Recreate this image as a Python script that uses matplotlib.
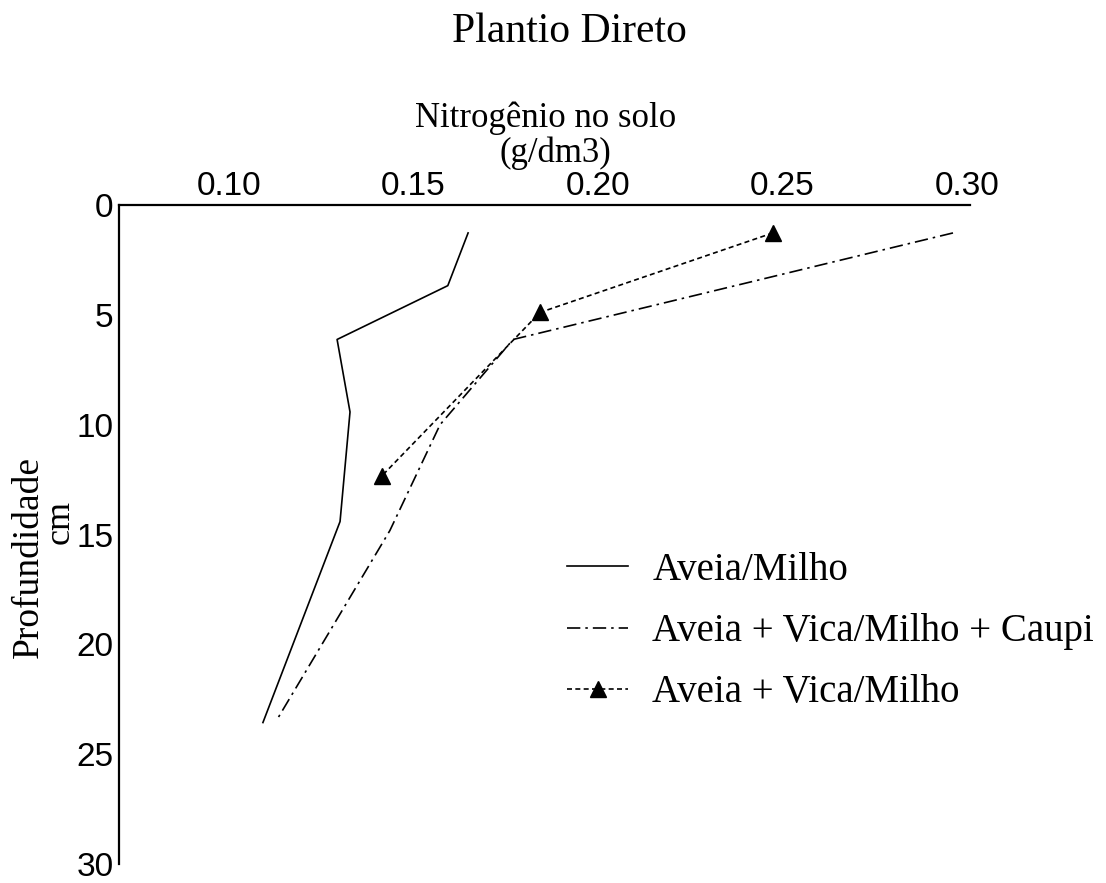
import matplotlib.pyplot as plt

# Nitrogênio no solo (g/dm3) por profundidade (cm) - plantio direto
prof_aveia_milho = [1.27, 3.67, 6.12, 9.42, 14.41, 23.56]
n_aveia_milho = [0.1648, 0.1593, 0.1293, 0.1328, 0.1301, 0.1092]

prof_caupi = [1.27, 6.12, 10.0, 14.82, 23.43]
n_caupi = [0.2962, 0.1770, 0.1572, 0.1436, 0.1130]

prof_vica = [1.27, 4.89, 12.32]
n_vica = [0.2474, 0.1843, 0.1415]

xticks = [0.10, 0.15, 0.20, 0.25, 0.30]
xtick_labels = ['0.10', '0.15', '0.20', '0.25', '0.30']
yticks = [0, 5, 10, 15, 20, 25, 30]

serif = 'Liberation Serif'
sans = 'Liberation Sans'

fig = plt.figure(figsize=(11.06, 8.83), dpi=100)
ax = fig.add_axes([0.1076, 0.0215, 0.7694, 0.7463])

ax.plot(n_aveia_milho, prof_aveia_milho, color='black', lw=1.2,
        linestyle='-', label='Aveia/Milho')
ax.plot(n_caupi, prof_caupi, color='black', lw=1.2,
        linestyle=(0, (8, 3, 1.5, 3)), label='Aveia + Vica/Milho + Caupi')
ax.plot(n_vica, prof_vica, color='black', lw=1.2, linestyle=(0, (3, 2)),
        marker='^', markersize=11, label='Aveia + Vica/Milho')

ax.set_xlim(0.0702, 0.3008)
ax.set_ylim(30, 0)

ax.xaxis.tick_top()
ax.set_xticks(xticks)
ax.set_xticklabels(xtick_labels, fontsize=24, family=sans)
ax.set_yticks(yticks)
ax.set_yticklabels([str(v) for v in yticks], fontsize=24, family=sans)
ax.tick_params(axis='x', length=0, pad=2)
ax.tick_params(axis='y', length=0, pad=4)

for side in ['right', 'bottom']:
    ax.spines[side].set_visible(False)
for side in ['top', 'left']:
    ax.spines[side].set_linewidth(1.6)

fig.text(569 / 1106, 1 - 42 / 883, 'Plantio Direto', ha='center',
         va='baseline', fontsize=30, family=serif)
fig.text(546 / 1106, 1 - 127 / 883, 'Nitrogênio no solo', ha='center',
         va='baseline', fontsize=25, family=serif)
fig.text(555 / 1106, 1 - 162 / 883, '(g/dm3)', ha='center',
         va='baseline', fontsize=25, family=serif)
fig.text(29 / 1106, 1 - 557 / 883, 'Profundidade', rotation=90,
         ha='center', va='center', fontsize=27, family=serif)
fig.text(60 / 1106, 1 - 522 / 883, 'cm', rotation=90,
         ha='center', va='center', fontsize=26, family=serif)

ax.legend(loc='upper left', bbox_to_anchor=(567 / 1106, 1 - 552 / 883),
          bbox_transform=fig.transFigure, frameon=False, borderpad=0,
          borderaxespad=0, handlelength=1.57, handletextpad=0.62,
          labelspacing=0.62, prop={'family': serif, 'size': 28})

fig.savefig('out.png', dpi=100)
